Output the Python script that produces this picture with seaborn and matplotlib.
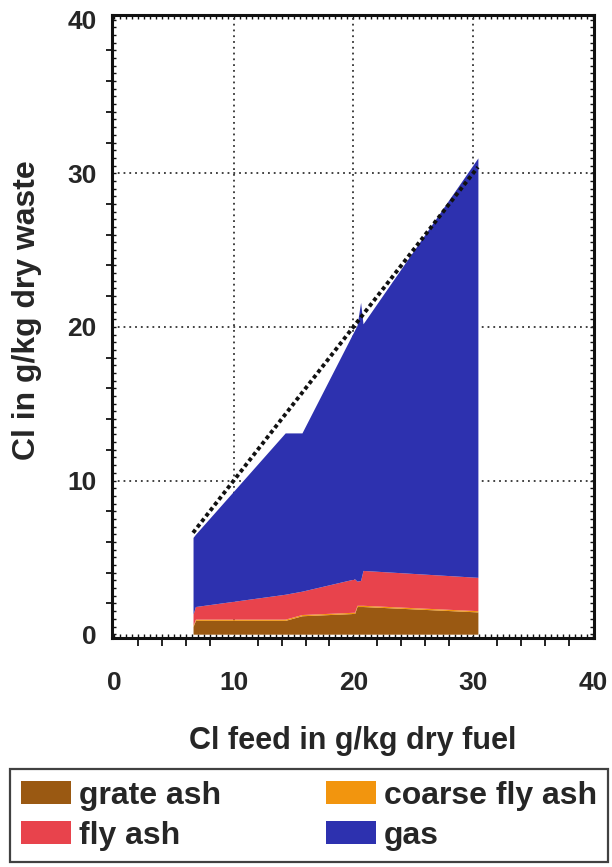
import numpy as np
import pandas as pd
import matplotlib
matplotlib.use("Agg")
import matplotlib.pyplot as plt
from matplotlib.patches import Patch
import seaborn as sns

# ---- data ----
cl_feed = [6.6, 6.8, 14.3, 15.7, 20.1, 20.3, 20.6, 20.8, 30.4]
grate_ash = [0.5, 0.9, 0.9, 1.2, 1.35, 1.8, 1.8, 1.8, 1.45]
coarse_fly_ash = [0.08, 0.08, 0.08, 0.08, 0.08, 0.08, 0.08, 0.08, 0.08]
fly_ash = [0.72, 0.82, 1.62, 1.52, 2.17, 1.57, 1.62, 2.27, 2.17]
gas = [5.0, 4.7, 10.5, 10.3, 16.2, 16.65, 18.1, 16.05, 27.3]
balance_x = [6.6, 30.4]
balance_y = [6.6, 30.4]

series_names = ["grate ash", "coarse fly ash", "fly ash", "gas"]
colors = {"grate ash": "#9A5912", "coarse fly ash": "#F2950E",
          "fly ash": "#E8434C", "gas": "#2D31AF"}

xticks = [0, 10, 20, 30, 40]
yticks = [0, 10, 20, 30, 40]

sns.set_theme(style="white")
plt.rcParams["font.family"] = ["Liberation Sans", "DejaVu Sans"]
plt.rcParams["font.weight"] = "bold"

fig = plt.figure(figsize=(6.12, 8.67), dpi=100)
ax = fig.add_axes([0.183, 0.2641, 0.7876, 0.7186])

df = pd.DataFrame({"x": cl_feed, "grate ash": grate_ash,
                   "coarse fly ash": coarse_fly_ash, "fly ash": fly_ash, "gas": gas})
ax.stackplot(df["x"], *[df[n] for n in series_names],
             colors=[colors[n] for n in series_names], linewidth=0, zorder=2)

bal = pd.DataFrame({"x": balance_x, "y": balance_y})
sns.lineplot(data=bal, x="x", y="y", ax=ax, color="#111111", lw=2.8,
             linestyle=(0, (1, 0.8)), zorder=4)

ax.set_xlim(-0.17, 40.1)
ax.set_ylim(-0.25, 40.3)
ax.set_xticks(xticks)
ax.set_yticks(yticks)
ax.set_xticks(np.arange(0, 41, 2), minor=True)
ax.set_yticks(np.arange(0, 41, 2), minor=True)

for v in [10, 20, 30]:
    ax.axvline(v, color="#333333", lw=1.3, linestyle=(0, (1, 2.2)), zorder=1)
    ax.axhline(v, color="#333333", lw=1.3, linestyle=(0, (1, 2.2)), zorder=1)

for s in ax.spines.values():
    s.set_visible(True)
    s.set_color("#111111")
    s.set_linewidth(2.2)

ax.tick_params(axis="x", which="major", direction="out", length=12, width=1.6,
               color="#111111", pad=12, labelsize=19)
ax.tick_params(axis="x", which="minor", direction="out", length=6, width=1.3,
               color="#111111", bottom=True)
ax.tick_params(axis="y", which="major", direction="out", length=7, width=1.6,
               color="#111111", pad=4, labelsize=19)
ax.tick_params(axis="y", which="minor", direction="out", length=4, width=1.3,
               color="#111111", left=True)
for lab in ax.get_xticklabels() + ax.get_yticklabels():
    lab.set_fontweight("bold")

# dense inward ticks on all four sides
fine = np.arange(0, 40.01, 0.5)
for loc in ["bottom", "top"]:
    sec = ax.secondary_xaxis(loc)
    sec.set_xticks(fine)
    sec.tick_params(direction="in", length=3, width=1.0, color="#111111",
                    labelbottom=False, labeltop=False)
    for s in sec.spines.values():
        s.set_visible(False)
for loc in ["left", "right"]:
    sec = ax.secondary_yaxis(loc)
    sec.set_yticks(fine)
    sec.tick_params(direction="in", length=3, width=1.0, color="#111111",
                    labelleft=False, labelright=False)
    for s in sec.spines.values():
        s.set_visible(False)

ax.set_xlabel("Cl feed in g/kg dry fuel", fontsize=22, fontweight="bold")
ax.set_ylabel("Cl in g/kg dry waste", fontsize=23, fontweight="bold")
ax.xaxis.set_label_coords(0.5, -0.141)
ax.yaxis.set_label_coords(-0.145, 0.526)

handles = [Patch(facecolor=colors[n], edgecolor="none", label=n)
           for n in ["grate ash", "fly ash", "coarse fly ash", "gas"]]
leg = fig.legend(handles=handles, loc="lower left", ncol=2, mode="expand",
                 bbox_to_anchor=(10 / 612, 5 / 867, 598 / 612, 95 / 867),
                 prop={"size": 23, "weight": "bold"}, frameon=True, fancybox=False,
                 handlelength=1.55, handleheight=0.7, handletextpad=0.25,
                 borderaxespad=0, borderpad=0.35, labelspacing=0.32,
                 columnspacing=1.0)
leg.get_frame().set_edgecolor("#111111")
leg.get_frame().set_linewidth(1.6)

fig.savefig("out.png", dpi=100)
